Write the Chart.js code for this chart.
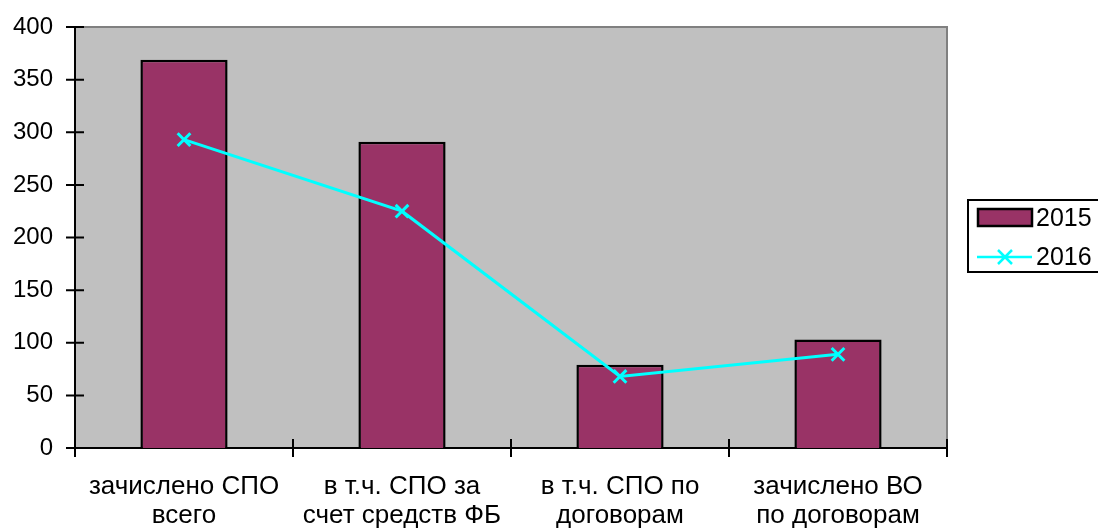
<!DOCTYPE html>
<html>
<head>
<meta charset="utf-8">
<script src="https://cdn.jsdelivr.net/npm/chart.js@4/dist/chart.umd.min.js"></script>
<style>
  html, body { margin: 0; padding: 0; background: #fff; }
  #wrap { width: 1098px; height: 531px; }
</style>
</head>
<body>
<div id="wrap"><canvas id="myChart"></canvas></div>
<script>
// data
const categories = [
  ['зачислено СПО', 'всего'],
  ['в т.ч. СПО за', 'счет средств ФБ'],
  ['в т.ч. СПО по', 'договорам'],
  ['зачислено ВО', 'по договорам']
];
const values2015 = [369, 291, 79, 103];
const values2016 = [293, 225, 68, 89];
const yTicks = [0, 50, 100, 150, 200, 250, 300, 350, 400];

Chart.defaults.font.family = '"Liberation Sans", Arial, sans-serif';
Chart.defaults.font.size = 24;
Chart.defaults.color = '#000';

// gray plot background + crossing tick marks
const plotArea = {
  id: 'plotArea',
  beforeDraw(chart) {
    const { ctx, chartArea: a } = chart;
    ctx.save();
    ctx.fillStyle = '#c0c0c0';
    ctx.fillRect(a.left, a.top, a.right - a.left, a.bottom - a.top);
    ctx.strokeStyle = '#808080';
    ctx.lineWidth = 2;
    ctx.beginPath();
    ctx.moveTo(a.left, a.top);
    ctx.lineTo(a.right, a.top);
    ctx.lineTo(a.right, a.bottom);
    ctx.stroke();
    ctx.restore();
  },
  afterDatasetsDraw(chart) {
    const { ctx, chartArea: a, scales } = chart;
    ctx.save();
    ctx.strokeStyle = '#000';
    ctx.lineWidth = 2;
    ctx.beginPath();
    yTicks.forEach(v => {
      const y = scales.y.getPixelForValue(v);
      ctx.moveTo(a.left - 9, y);
      ctx.lineTo(a.left + 9, y);
    });
    const step = (a.right - a.left) / categories.length;
    for (let i = 0; i <= categories.length; i++) {
      const x = a.left + i * step;
      ctx.moveTo(x, a.bottom - 9);
      ctx.lineTo(x, a.bottom + 9);
    }
    ctx.stroke();
    ctx.restore();
  }
};

// legend box at the right
const sideLegend = {
  id: 'sideLegend',
  afterDraw(chart) {
    const { ctx } = chart;
    const line = chart.data.datasets[0];
    const bar = chart.data.datasets[1];
    ctx.save();
    ctx.strokeStyle = '#000';
    ctx.lineWidth = 2;
    ctx.strokeRect(968, 200, 140, 72);
    // 2015 swatch
    ctx.fillStyle = bar.backgroundColor;
    ctx.fillRect(978, 209, 54, 17);
    ctx.lineWidth = 2.5;
    ctx.strokeRect(978, 209, 54, 17);
    // 2016 line + marker
    ctx.strokeStyle = line.borderColor;
    ctx.lineWidth = 2.5;
    ctx.beginPath();
    ctx.moveTo(977, 257);
    ctx.lineTo(1032, 257);
    ctx.moveTo(998, 250); ctx.lineTo(1012, 264);
    ctx.moveTo(1012, 250); ctx.lineTo(998, 264);
    ctx.stroke();
    ctx.fillStyle = '#000';
    ctx.font = '25px "Liberation Sans", Arial, sans-serif';
    ctx.textBaseline = 'middle';
    ctx.fillText(bar.label, 1036, 219);
    ctx.fillText(line.label, 1036, 258);
    ctx.restore();
  }
};

new Chart(document.getElementById('myChart'), {
  type: 'bar',
  data: {
    labels: categories,
    datasets: [
      {
        type: 'line',
        label: '2016',
        data: values2016,
        borderColor: '#00ffff',
        backgroundColor: '#00ffff',
        borderWidth: 3,
        pointStyle: 'crossRot',
        pointRadius: 9,
        pointBorderWidth: 3,
        tension: 0,
        order: 0
      },
      {
        label: '2015',
        data: values2015,
        backgroundColor: '#993366',
        borderColor: '#000',
        borderWidth: 2.5,
        barPercentage: 0.4,
        categoryPercentage: 1,
        order: 1
      }
    ]
  },
  plugins: [plotArea, sideLegend],
  options: {
    responsive: true,
    maintainAspectRatio: false,
    animation: false,
    layout: { padding: { left: 0, right: 151, top: 27, bottom: 0 } },
    plugins: {
      legend: { display: false },
      tooltip: { enabled: false }
    },
    scales: {
      x: {
        offset: true,
        grid: { display: false, drawTicks: false },
        border: { display: true, color: '#000', width: 2 },
        ticks: { padding: 25, maxRotation: 0, autoSkip: false, font: { size: 26, lineHeight: 1.1 } },
        afterFit(scale) { scale.height = 83; }
      },
      y: {
        min: 0,
        max: 400,
        grid: { display: false, drawTicks: false },
        border: { display: true, color: '#000', width: 2 },
        ticks: { stepSize: 50, padding: 22 },
        afterFit(scale) { scale.width = 75; scale.paddingTop = 0; scale.paddingBottom = 0; }
      }
    }
  }
});
</script>
</body>
</html>
